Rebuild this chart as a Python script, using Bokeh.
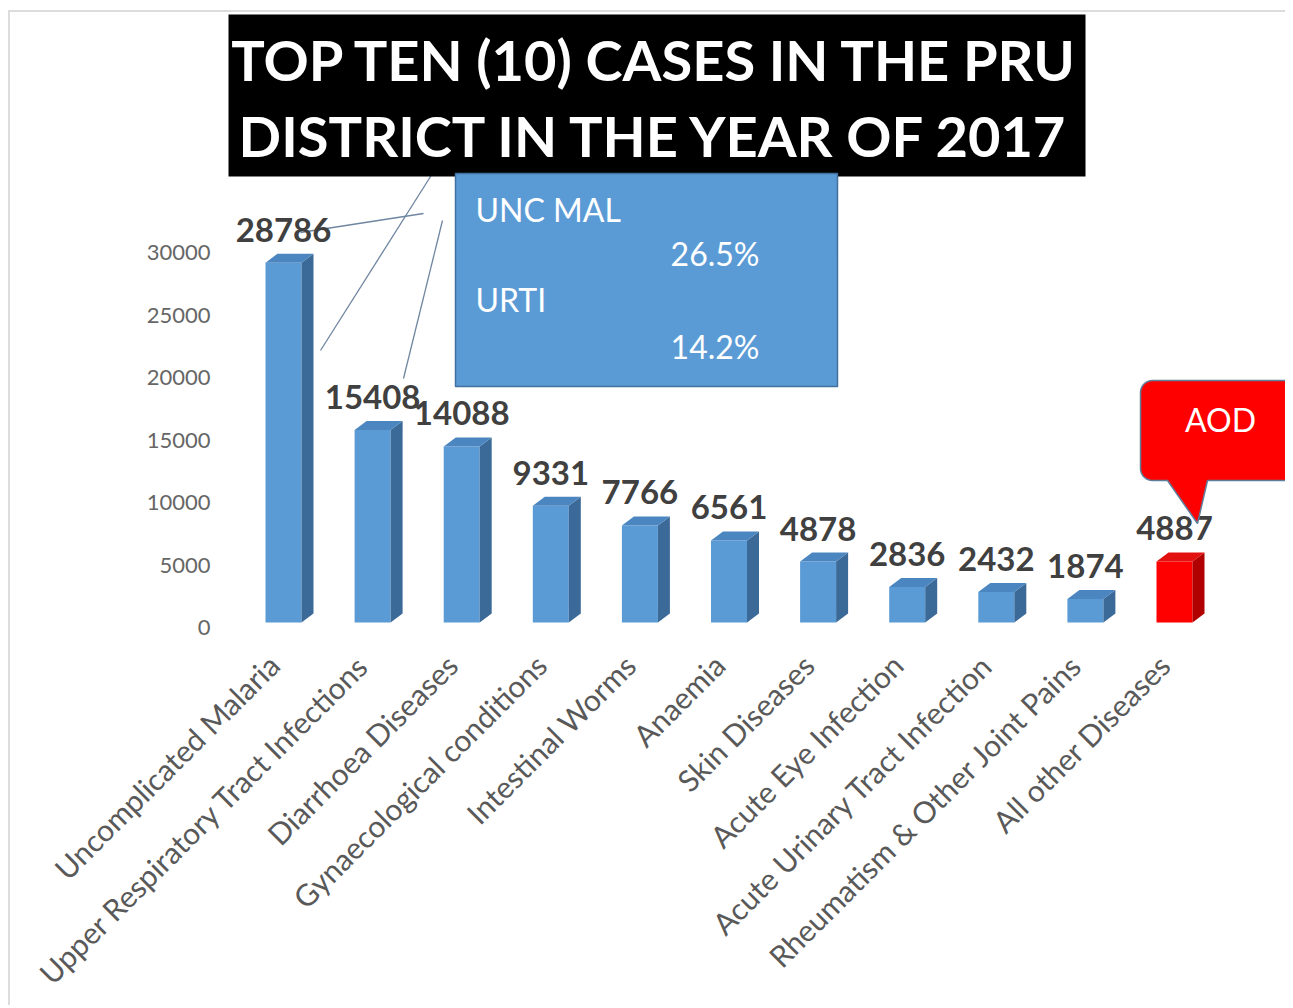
import math
from bokeh.plotting import figure
from bokeh.models import FixedTicker, Range1d
from bokeh.core.properties import value
from bokeh.embed import file_html
from bokeh.resources import INLINE

# ---------------- data ----------------
categories = ["Uncomplicated Malaria", "Upper Respiratory Tract Infections", "Diarrhoea Diseases",
              "Gynaecological conditions", "Intestinal Worms", "Anaemia", "Skin Diseases",
              "Acute Eye Infection", "Acute Urinary Tract Infection",
              "Rheumatism & Other Joint Pains", "All other Diseases"]
cases = [28786, 15408, 14088, 9331, 7766, 6561, 4878, 2836, 2432, 1874, 4887]
highlight = [False] * 10 + [True]
y_ticks = [0, 5000, 10000, 15000, 20000, 25000, 30000]
title_lines = ["TOP TEN (10) CASES IN THE PRU", "DISTRICT IN THE YEAR OF 2017"]
callout_labels = ["UNC MAL", "URTI"]
callout_shares = ["26.5%", "14.2%"]
aod_label = "AOD"

# ---------------- layout (page pixels) ----------------
ORG_X, ORG_Y = 10, 12                    # canvas origin on page (margin + border)
W, H = 1277, 995
FL, FT = 223, ORG_Y                      # frame left / top on page
FR, FB = ORG_X + W, 640                  # frame right / bottom on page
X0, XSTEP = 283, 89.1                    # page x of first category, px per category
Y0, YSCALE = 622, 0.0125                 # page y of value 0, px per unit


def X(px):
    return (px - X0) / XSTEP


def Y(py):
    return (Y0 - py) / YSCALE


def DX(px):
    return px / XSTEP


def DY(px):
    return px / YSCALE


p = figure(width=W, height=H, output_backend="svg", toolbar_location=None,
           x_range=Range1d(X(FL), X(FR)), y_range=Range1d(Y(FB), Y(FT)),
           min_border_left=FL - ORG_X, min_border_right=0, min_border_top=0,
           min_border_bottom=ORG_Y + H - FB,
           styles={"margin-left": "8px", "margin-top": "10px",
                   "border-top": "2px solid #dcdcdc", "border-left": "2px solid #dcdcdc"})
p.outline_line_color = None
p.background_fill_color = "white"
p.border_fill_color = "white"
p.xgrid.visible = False
p.ygrid.visible = False

# axes (ticks sit on the 3D back wall, slightly below the bar fronts)
ytick_shift = DY(5)
ytick_pos = [t - ytick_shift for t in y_ticks]
p.yaxis.ticker = FixedTicker(ticks=ytick_pos)
p.yaxis.major_label_overrides = {pos: str(t) for pos, t in zip(ytick_pos, y_ticks)}
p.yaxis.axis_line_color = None
p.yaxis.major_tick_line_color = None
p.yaxis.minor_tick_line_color = None
p.yaxis.major_tick_out = 0
p.yaxis.major_label_standoff = 13
p.yaxis.major_label_text_font = "Lato"
p.yaxis.major_label_text_font_size = "22px"
p.yaxis.major_label_text_color = "#666666"

xtick_shift = DX(10)
xtick_pos = [i - xtick_shift for i in range(len(categories))]
p.xaxis.ticker = FixedTicker(ticks=xtick_pos)
p.xaxis.major_label_overrides = {pos: c for pos, c in zip(xtick_pos, categories)}
p.xaxis.major_label_orientation = math.pi / 4
p.xaxis.axis_line_color = None
p.xaxis.major_tick_line_color = None
p.xaxis.minor_tick_line_color = None
p.xaxis.major_tick_out = 0
p.xaxis.major_label_standoff = 19
p.xaxis.major_label_text_font = "Lato"
p.xaxis.major_label_text_font_size = "30px"
p.xaxis.major_label_text_color = "#595959"

# ---------------- leader lines ----------------
lead_x0 = [X(320), X(300), X(442)]
lead_y0 = [Y(350), Y(232), Y(220)]
lead_x1 = [X(437), X(423), X(403)]
lead_y1 = [Y(165), Y(213), Y(378)]
p.segment(lead_x0, lead_y0, lead_x1, lead_y1, line_color="#6f86a0", line_width=1.3)

# ---------------- title box ----------------
p.quad(left=[X(228)], right=[X(1085)], top=[Y(14)], bottom=[Y(176)],
       fill_color="black", line_color=None)
p.text(x=[X(655)] * 2, y=[Y(59), Y(135)], text=title_lines,
       text_font=value("Lato"), text_font_style="bold", text_font_size="56px",
       text_color="white", text_align="center", text_baseline="middle")

# ---------------- blue callout ----------------
p.quad(left=[X(455)], right=[X(837)], top=[Y(173)], bottom=[Y(386)],
       fill_color="#5B9BD5", line_color="#41719C", line_width=1.5)
p.text(x=[X(475)] * 2, y=[Y(209), Y(299)], text=callout_labels,
       text_font=value("Lato"), text_font_size="32px", text_color="white",
       text_align="left", text_baseline="middle")
p.text(x=[X(759)] * 2, y=[Y(253), Y(346)], text=callout_shares,
       text_font=value("Lato"), text_font_size="32px", text_color="white",
       text_align="right", text_baseline="middle")

# ---------------- 3D bars ----------------
bw = DX(36)
ddx, ddy = DX(12), DY(9)
front_c = ["#FF0000" if h else "#5B9BD5" for h in highlight]
side_c = ["#B00000" if h else "#3C6A98" for h in highlight]
top_c = ["#E31010" if h else "#4C86C0" for h in highlight]

xs = list(range(len(cases)))
lefts = [i - bw / 2 for i in xs]
rights = [i + bw / 2 for i in xs]

p.quad(left=lefts, right=rights, bottom=[0] * len(cases), top=cases,
       fill_color=front_c, line_color=None)
side_x = [[r, r + ddx, r + ddx, r] for r in rights]
side_y = [[0, ddy, v + ddy, v] for v in cases]
p.patches(side_x, side_y, fill_color=side_c, line_color=None)
top_x = [[l, l + ddx, r + ddx, r] for l, r in zip(lefts, rights)]
top_y = [[v, v + ddy, v + ddy, v] for v in cases]
p.patches(top_x, top_y, fill_color=top_c, line_color=None)

# value labels
p.text(x=xs, y=cases, text=[str(v) for v in cases], y_offset=-33,
       text_font=value("Lato"), text_font_style="bold", text_font_size="33px",
       text_color="#404040", text_align="center", text_baseline="middle")

# ---------------- AOD callout ----------------
def rounded_callout(x1, y1, x2, y2, r, pl, pr, tip):
    pts = []

    def arc(cx, cy, a0, a1, n=8):
        for k in range(n + 1):
            a = math.radians(a0 + (a1 - a0) * k / n)
            pts.append((cx + r * math.cos(a), cy + r * math.sin(a)))

    arc(x1 + r, y1 + r, 180, 270)
    arc(x2 - r, y1 + r, 270, 360)
    arc(x2 - r, y2 - r, 0, 90)
    pts.append((pr, y2))
    pts.append(tip)
    pts.append((pl, y2))
    arc(x1 + r, y2 - r, 90, 180)
    return [X(a) for a, b in pts], [Y(b) for a, b in pts]


cx, cy = rounded_callout(1140, 380, 1310, 480, 12, 1167, 1207, (1197, 523))
p.patch(cx, cy, fill_color="#FF0000", line_color="#5d7f9c", line_width=1.5)
p.text(x=[X(1220)], y=[Y(419)], text=[aod_label], text_font=value("Lato"),
       text_font_size="32px", text_color="white", text_align="center",
       text_baseline="middle")

open("out.html", "w").write(file_html(p, INLINE))
